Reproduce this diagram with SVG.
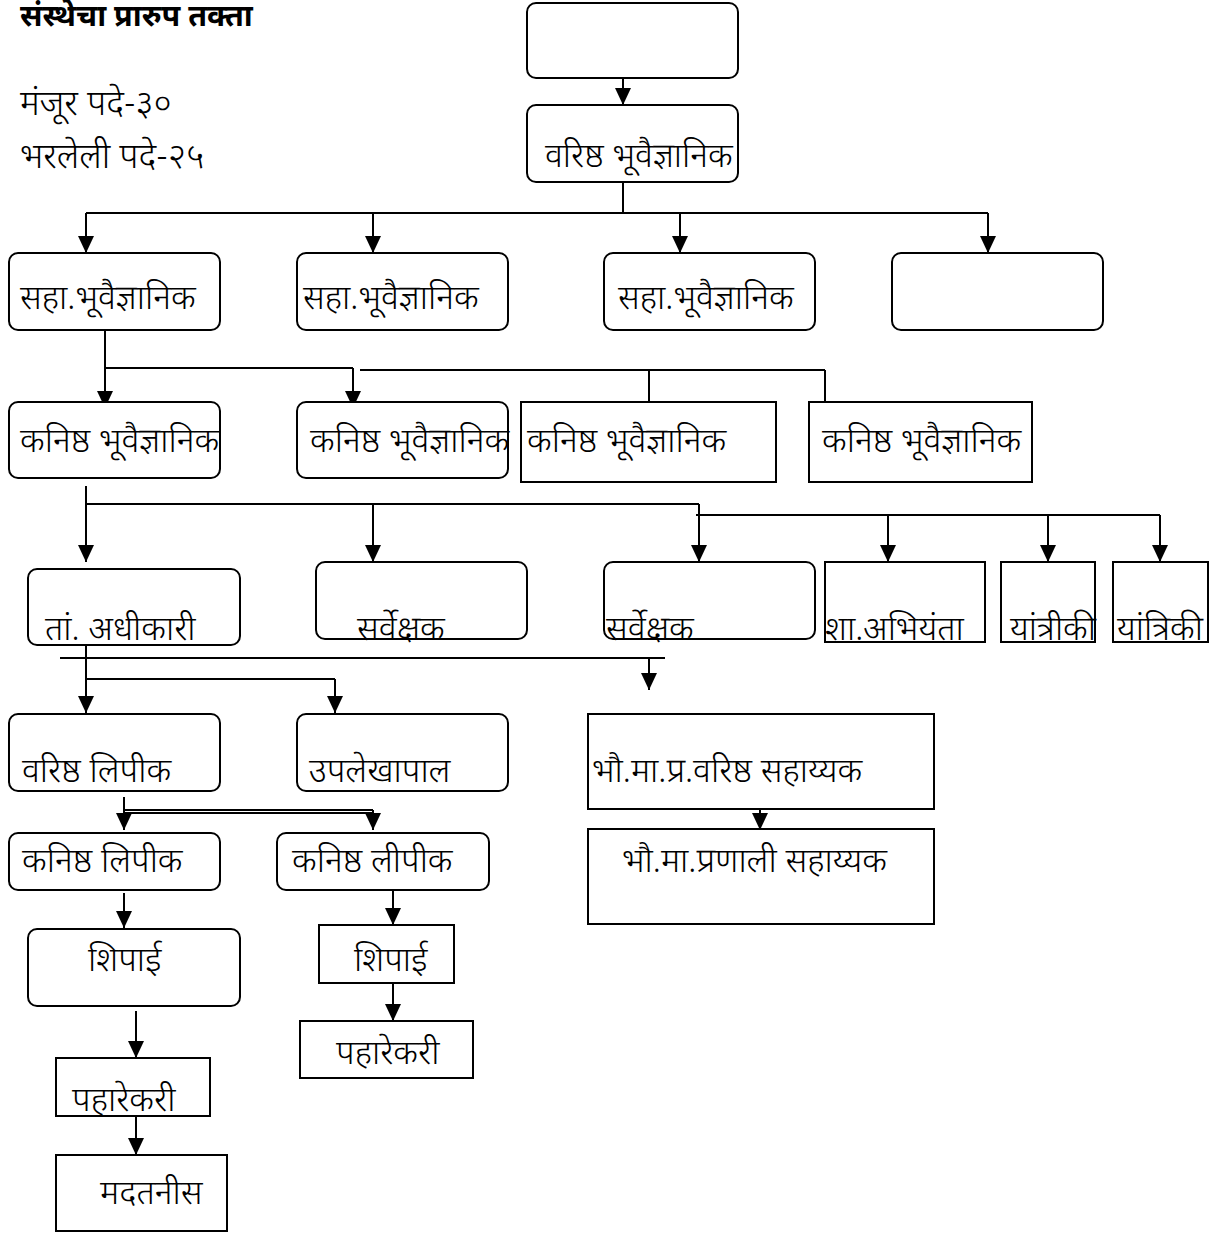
<svg xmlns="http://www.w3.org/2000/svg" width="1220" height="1233" viewBox="0 0 1220 1233">
<style>
  .bx{fill:#fff;stroke:#000;stroke-width:2}
  .t{font-family:"Noto Sans Devanagari","Noto Sans","Lohit Devanagari",sans-serif;font-size:34px;font-weight:300;fill:#000}
  .c line,.c polyline{stroke:#000;stroke-width:2;fill:none}
  .a{marker-end:url(#ah)}
</style>
<defs>
  <marker id="ah" markerUnits="userSpaceOnUse" markerWidth="18" markerHeight="16" refX="17" refY="8" orient="auto">
    <path d="M0,0 L17,8 L0,16 z" fill="#000"/>
  </marker>
</defs>
<rect width="1220" height="1233" fill="#fff"/>
<g id="header">
  <text class="t" x="20" y="26" style="font-weight:bold;font-size:30.5px">संस्थेचा प्रारुप तक्ता</text>
  <text class="t" x="20" y="115" style="font-size:35px">मंजूर पदे-३०</text>
  <text class="t" x="20" y="168" style="font-size:35px">भरलेली पदे-२५</text>
</g>
<g class="c" id="connectors">
  <line class="a" x1="623" y1="78" x2="623" y2="105"/>
  <line x1="623" y1="182" x2="623" y2="213"/>
  <line x1="86" y1="213" x2="988" y2="213"/>
  <line class="a" x1="86" y1="213" x2="86" y2="253"/>
  <line class="a" x1="373" y1="213" x2="373" y2="253"/>
  <line class="a" x1="680" y1="213" x2="680" y2="253"/>
  <line class="a" x1="988" y1="213" x2="988" y2="253"/>
  <line class="a" x1="105" y1="330" x2="105" y2="408"/>
  <line x1="105" y1="368" x2="353" y2="368"/>
  <line class="a" x1="353" y1="368" x2="353" y2="408"/>
  <line x1="360" y1="370" x2="825" y2="370"/>
  <line class="a" x1="649" y1="370" x2="649" y2="418"/>
  <line class="a" x1="825" y1="370" x2="825" y2="418"/>
  <line class="a" x1="86" y1="486" x2="86" y2="562"/>
  <line x1="86" y1="504" x2="699" y2="504"/>
  <line class="a" x1="373" y1="504" x2="373" y2="562"/>
  <line class="a" x1="699" y1="504" x2="699" y2="562"/>
  <line x1="696" y1="515" x2="1160" y2="515"/>
  <line class="a" x1="888" y1="515" x2="888" y2="562"/>
  <line class="a" x1="1048" y1="515" x2="1048" y2="562"/>
  <line class="a" x1="1160" y1="515" x2="1160" y2="562"/>
  <line class="a" x1="86" y1="640" x2="86" y2="713"/>
  <line x1="60" y1="658" x2="665" y2="658"/>
  <line class="a" x1="649" y1="658" x2="649" y2="690"/>
  <line x1="86" y1="679" x2="335" y2="679"/>
  <line class="a" x1="335" y1="679" x2="335" y2="713"/>
  <line class="a" x1="760" y1="785" x2="760" y2="830"/>
  <line class="a" x1="124" y1="797" x2="124" y2="830"/>
  <line x1="124" y1="810" x2="373" y2="810"/>
  <line x1="124" y1="813" x2="373" y2="813"/>
  <line class="a" x1="373" y1="810" x2="373" y2="830"/>
  <line class="a" x1="124" y1="893" x2="124" y2="928"/>
  <line class="a" x1="393" y1="883" x2="393" y2="925"/>
  <line class="a" x1="393" y1="978" x2="393" y2="1021"/>
  <line class="a" x1="136" y1="1011" x2="136" y2="1058"/>
  <line class="a" x1="136" y1="1107" x2="136" y2="1155"/>
</g>
<g id="n-top"><rect class="bx" x="527" y="3" width="211" height="75" rx="9"/></g>
<g id="n-varishtha"><rect class="bx" x="527" y="105" width="211" height="77" rx="9"/><text class="t" x="545" y="167">वरिष्ठ भूवैज्ञानिक</text></g>
<g id="n-saha1"><rect class="bx" x="9" y="253" width="211" height="77" rx="9"/><text class="t" x="20" y="309">सहा.भूवैज्ञानिक</text></g>
<g id="n-saha2"><rect class="bx" x="297" y="253" width="211" height="77" rx="9"/><text class="t" x="303" y="309">सहा.भूवैज्ञानिक</text></g>
<g id="n-saha3"><rect class="bx" x="604" y="253" width="211" height="77" rx="9"/><text class="t" x="618" y="309">सहा.भूवैज्ञानिक</text></g>
<g id="n-empty2"><rect class="bx" x="892" y="253" width="211" height="77" rx="9"/></g>
<g id="n-kan1"><rect class="bx" x="9" y="402" width="211" height="76" rx="9"/><text class="t" x="20" y="452">कनिष्ठ भूवैज्ञानिक</text></g>
<g id="n-kan2"><rect class="bx" x="297" y="402" width="211" height="76" rx="9"/><text class="t" x="310" y="452">कनिष्ठ भूवैज्ञानिक</text></g>
<g id="n-kan3"><rect class="bx" x="521" y="402" width="255" height="80"/><text class="t" x="527" y="452">कनिष्ठ भूवैज्ञानिक</text></g>
<g id="n-kan4"><rect class="bx" x="809" y="402" width="223" height="80"/><text class="t" x="822" y="452">कनिष्ठ भूवैज्ञानिक</text></g>
<g id="n-tanadhikari"><rect class="bx" x="28" y="569" width="212" height="76" rx="9"/><text class="t" x="45" y="640">तां. अधीकारी</text></g>
<g id="n-sarv1"><rect class="bx" x="316" y="562" width="211" height="77" rx="9"/><text class="t" x="357" y="640">सर्वेक्षक</text></g>
<g id="n-sarv2"><rect class="bx" x="604" y="562" width="211" height="77" rx="9"/><text class="t" x="606" y="640">सर्वेक्षक</text></g>
<g id="n-shaabhi"><rect class="bx" x="825" y="562" width="160" height="80"/><text class="t" x="825" y="640">शा.अभियंता</text></g>
<g id="n-yantri1"><rect class="bx" x="1001" y="562" width="94" height="80"/><text class="t" x="1010" y="640">यांत्रीकी</text></g>
<g id="n-yantri2"><rect class="bx" x="1113" y="562" width="95" height="80"/><text class="t" x="1117" y="640">यांत्रिकी</text></g>
<g id="n-varlipik"><rect class="bx" x="9" y="714" width="211" height="77" rx="9"/><text class="t" x="22" y="782">वरिष्ठ लिपीक</text></g>
<g id="n-upalekha"><rect class="bx" x="297" y="714" width="211" height="77" rx="9"/><text class="t" x="309" y="782">उपलेखापाल</text></g>
<g id="n-bhau1"><rect class="bx" x="588" y="714" width="346" height="95"/><text class="t" x="592" y="782">भौ.मा.प्र.वरिष्ठ सहाय्यक</text></g>
<g id="n-bhau2"><rect class="bx" x="588" y="829" width="346" height="95"/><text class="t" x="622" y="872">भौ.मा.प्रणाली सहाय्यक</text></g>
<g id="n-kanlip1"><rect class="bx" x="9" y="833" width="211" height="57" rx="9"/><text class="t" x="22" y="872">कनिष्ठ लिपीक</text></g>
<g id="n-kanlip2"><rect class="bx" x="277" y="833" width="212" height="57" rx="9"/><text class="t" x="292" y="872">कनिष्ठ लीपीक</text></g>
<g id="n-shipai1"><rect class="bx" x="28" y="929" width="212" height="77" rx="9"/><text class="t" x="88" y="971">शिपाई</text></g>
<g id="n-shipai2"><rect class="bx" x="319" y="925" width="135" height="58"/><text class="t" x="354" y="971">शिपाई</text></g>
<g id="n-pahar2"><rect class="bx" x="300" y="1021" width="173" height="57"/><text class="t" x="336" y="1064">पहारेकरी</text></g>
<g id="n-pahar1"><rect class="bx" x="56" y="1058" width="154" height="58"/><text class="t" x="72" y="1111">पहारेकरी</text></g>
<g id="n-madat"><rect class="bx" x="56" y="1155" width="171" height="76"/><text class="t" x="100" y="1204">मदतनीस</text></g>
</svg>
